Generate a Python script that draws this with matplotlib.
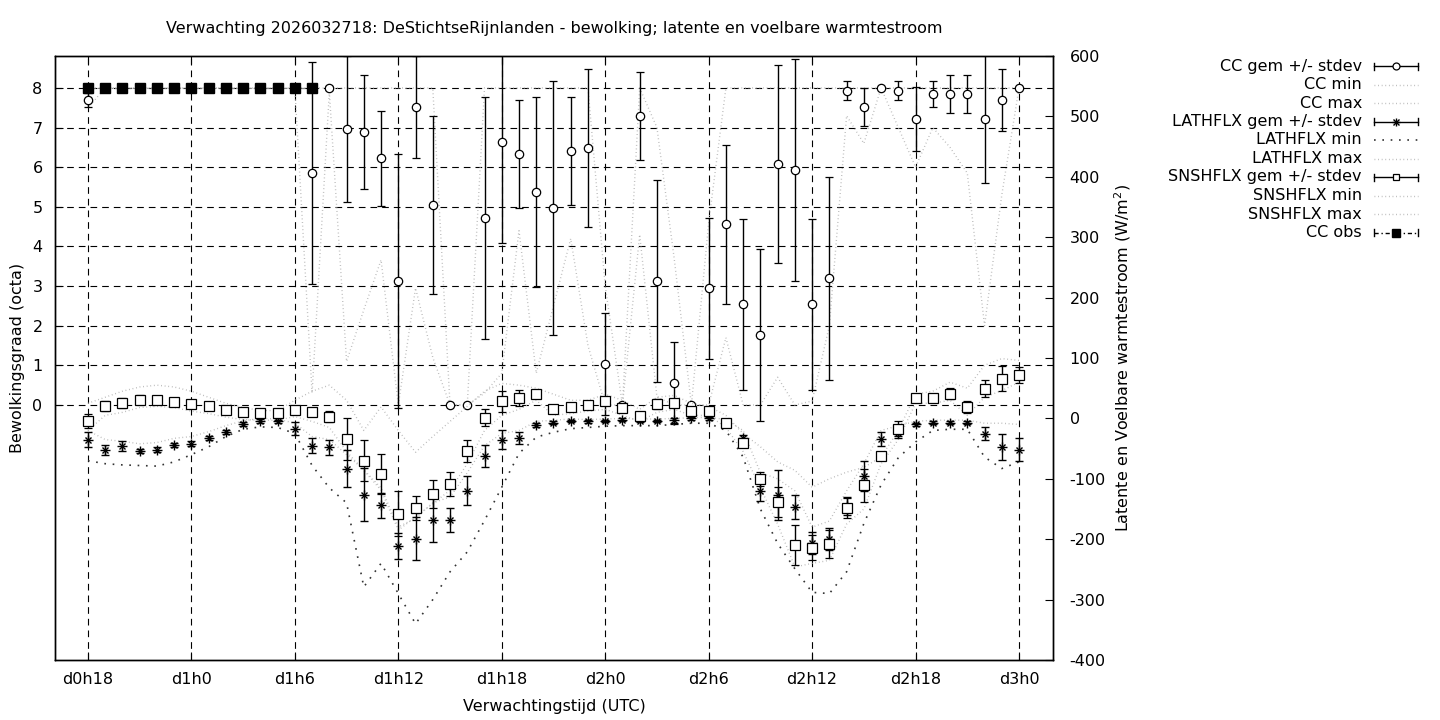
import numpy as np
import matplotlib
matplotlib.use('Agg')
import matplotlib.pyplot as plt
from matplotlib.lines import Line2D

# uren vanaf d0h0, een waarde per uur
hours = np.arange(18, 73)
tick_hours = [18, 24, 30, 36, 42, 48, 54, 60, 66, 72]
tick_labels = ['d0h18', 'd1h0', 'd1h6', 'd1h12', 'd1h18', 'd2h0', 'd2h6', 'd2h12', 'd2h18', 'd3h0']

# bewolking (octa)
cc_gem = [7.70] + [8.0] * 12 + [5.85, 8.0, 6.96, 6.89, 6.23, 3.13, 7.52, 5.04, 0.0, 0.0,
          4.71, 6.63, 6.33, 5.37, 4.97, 6.41, 6.48, 1.03, 0.0, 7.29,
          3.13, 0.55, 0.0, 2.95, 4.56, 2.54, 1.76, 6.08, 5.93, 2.54,
          3.20, 7.93, 7.52, 8.0, 7.93, 7.22, 7.85, 7.85, 7.85, 7.22, 7.70, 8.0]
cc_sd = [0.17] + [0.0] * 12 + [2.80, 0.05, 1.84, 1.44, 1.20, 3.20, 1.29, 2.25, 0.0, 0.0,
         3.05, 2.55, 1.36, 2.40, 3.20, 1.36, 2.00, 1.29, 0.0, 1.12,
         2.56, 1.03, 0.0, 1.78, 2.00, 2.15, 2.17, 2.50, 2.80, 2.15,
         2.56, 0.24, 0.48, 0.0, 0.24, 0.80, 0.33, 0.48, 0.48, 1.62, 0.79, 0.0]
cc_min = [7.5] + [8.0] * 12 + [0.3, 7.9, 1.1, 2.4, 3.66, 0.0, 2.95, 1.2, 0.0, 0.0,
          0.3, 0.8, 4.4, 0.8, 2.5, 4.2, 1.5, 0.0, 0.0, 4.3,
          0.2, 0.0, 0.0, 0.0, 1.7, 0.0, 0.0, 0.7, 0.0, 0.1,
          2.0, 7.3, 6.6, 8.0, 7.0, 6.0, 7.0, 6.5, 5.85, 2.0, 5.3, 8.0]
cc_max = [8.0] * 21 + [0.0, 0.0] + [8.0] * 7 + [3.0, 0.0, 8.0, 7.0, 3.7, 0.0, 4.6] + [8.0] * 18
obs_hours = np.arange(18, 32)
cc_obs = [8.0] * 14

# latente warmtestroom (W/m2)
lat_gem = [-35, -52, -46, -54, -52, -44, -42, -32, -23, -9,
           -4, -5, -17, -45, -48, -83, -126, -144, -211, -199,
           -168, -168, -120, -62, -35, -32, -11, -7, -4, -5,
           -4, -2, -4, -4, -3, 0, 0, -7, -33, -120,
           -127, -146, -206, -200, -145, -95, -34, -24, -10, -7,
           -7, -7, -25, -47, -52]
lat_sd = [13, 8, 8, 4, 4, 4, 4, 3, 3, 3,
          3, 3, 11, 12, 12, 31, 44, 21, 21, 36,
          36, 20, 24, 18, 16, 10, 3, 2, 2, 2,
          2, 2, 2, 2, 4, 2, 2, 2, 5, 17,
          42, 20, 18, 18, 15, 25, 12, 8, 2, 2,
          2, 2, 10, 22, 19]
lat_min = [-70, -75, -77, -78, -79, -72, -60, -47, -30, -18,
           -14, -15, -25, -78, -115, -140, -279, -240, -290, -340,
           -300, -254, -221, -169, -114, -58, -31, -23, -17, -15,
           -13, -12, -12, -12, -10, -8, -8, -20, -64, -150,
           -207, -249, -288, -290, -254, -174, -110, -65, -39, -20,
           -18, -18, -64, -83, -72]
lat_max = [-20, -35, -38, -42, -40, -33, -30, -22, -12, -4,
           0, -1, -8, -30, -35, -60, -85, -115, -180, -165,
           -140, -130, -90, -45, -25, -20, -5, -3, -1, -2,
           -1, 0, -1, -1, 0, 1, 2, -2, -20, -90,
           -100, -120, -180, -170, -120, -75, -20, -12, -5, -3,
           -3, -3, -8, -8, -10]

# voelbare warmtestroom (W/m2)
snsh_gem = [-4, 21, 25, 31, 31, 27, 24, 21, 14, 11,
            9, 9, 14, 11, 3, -34, -70, -92, -158, -148,
            -125, -108, -54, 1, 28, 34, 41, 16, 19, 23,
            28, 18, 4, 24, 26, 13, 13, -7, -40, -100,
            -138, -209, -214, -208, -148, -111, -62, -17, 33, 33,
            41, 19, 49, 66, 72]
snsh_sd = [12, 8, 8, 7, 6, 3, 6, 0, 2, 2,
           2, 2, 4, 7, 9, 35, 34, 33, 37, 20,
           23, 20, 19, 14, 18, 13, 5, 4, 3, 4,
           6, 3, 2, 8, 4, 3, 2, 2, 5, 12,
           25, 33, 21, 23, 17, 27, 7, 12, 2, 2,
           9, 10, 14, 20, 13]
snsh_min = [-20, 5, 10, 18, 20, 18, 12, 8, 2, -2,
            -3, -3, 3, -5, -15, -55, -86, -119, -185, -163,
            -141, -119, -75, -20, 5, 15, 30, 5, 8, 12,
            15, 5, -5, 10, 15, 5, 5, -15, -55, -115,
            -175, -246, -240, -235, -175, -150, -75, -35, 25, 25,
            30, 5, 35, 46, 60]
snsh_max = [25, 35, 45, 52, 55, 52, 45, 35, 25, 18,
            13, 13, 30, 45, 55, 30, -20, 19, -20, -56,
            -30, -5, 20, 45, 58, 55, 50, 40, 30, 30,
            40, 30, 15, 35, 38, 25, 20, 5, -25, -47,
            -72, -86, -114, -100, -89, -81, -64, -20, 40, 45,
            60, 50, 88, 99, 96]

plt.rcParams['font.family'] = ['DejaVu Sans']
plt.rcParams['font.size'] = 11.5
plt.rcParams['axes.unicode_minus'] = False

W, H = 1440, 720
fig = plt.figure(figsize=(14.4, 7.2), dpi=100)


def fx(px):
    return px / W


def fy(py):
    return 1 - py / H


ax = fig.add_axes([fx(55), fy(660), fx(1053) - fx(55), fy(56) - fy(660)])
ax2 = ax.twinx()

grey = '#b4b4b4'
fine_dot = (0, (0.6, 2.0))
sparse_dot = (0, (1, 4))
obs_style = (0, (3, 2, 1, 2))

# bewolking op de linkeras
ax.errorbar(hours, cc_gem, yerr=cc_sd, fmt='o', ms=6, mfc='white', mec='black', mew=0.9,
            ecolor='black', elinewidth=1, capsize=3, capthick=1, zorder=3)
ax.plot(hours, cc_min, color=grey, lw=1, linestyle=fine_dot, zorder=2)
ax.plot(hours, cc_max, color=grey, lw=1, linestyle=fine_dot, zorder=2)
ax.plot(obs_hours, cc_obs, color='#888888', lw=0.8, linestyle=obs_style,
        marker='s', ms=6.5, mfc='black', mec='black', zorder=6)

# warmtestromen op de rechteras
ax2.errorbar(hours, lat_gem, yerr=lat_sd, fmt='none', ecolor='black', elinewidth=1,
             capsize=3, capthick=1, zorder=3)
ax2.plot(hours, lat_gem, ls='none', marker='+', ms=7, mec='black', mew=1, zorder=4)
ax2.plot(hours, lat_gem, ls='none', marker='x', ms=5, mec='black', mew=1, zorder=4)
ax2.plot(hours, lat_min, color='#333333', lw=1.2, linestyle=sparse_dot, zorder=2)
ax2.plot(hours, lat_max, color=grey, lw=1, linestyle=fine_dot, zorder=2)
ax2.errorbar(hours, snsh_gem, yerr=snsh_sd, fmt='s', ms=6.5, mfc='white', mec='black', mew=0.9,
             ecolor='black', elinewidth=1, capsize=3, capthick=1, zorder=5)
ax2.plot(hours, snsh_min, color=grey, lw=1, linestyle=fine_dot, zorder=2)
ax2.plot(hours, snsh_max, color=grey, lw=1, linestyle=fine_dot, zorder=2)

ax.set_xlim(16.09, 73.97)
ax.set_ylim(-6.435, 8.807)
ax2.set_ylim(-400, 600)
ax.set_xticks(tick_hours)
ax.set_xticklabels(tick_labels)
ax.set_yticks(range(0, 9))
ax2.set_yticks(range(-400, 601, 100))
ax.tick_params(axis='x', direction='in', length=5.5, width=0.8, top=True, pad=9)
ax.tick_params(axis='y', direction='in', length=5.5, width=0.8, pad=9)
ax2.tick_params(axis='y', direction='in', length=5.5, width=0.8, pad=12)
ax.grid(True, color='black', lw=0.8, linestyle=(0, (6, 4.5)))
for a in (ax, ax2):
    for s in a.spines.values():
        s.set_linewidth(1)

fig.text(fx(554), fy(29), 'Verwachting 2026032718: DeStichtseRijnlanden - bewolking; latente en voelbare warmtestroom',
         ha='center', va='center')
fig.text(fx(554), fy(706), 'Verwachtingstijd (UTC)', ha='center', va='center')
fig.text(fx(18), fy(358), 'Bewolkingsgraad (octa)', rotation=90, ha='center', va='center')
fig.text(fx(1123), fy(358), 'Latente en Voelbare warmtestroom (W/m$^2$)', rotation=90,
         ha='center', va='center')

# legenda rechts buiten de grafiek
legend_rows = [
    ('CC gem +/- stdev', 'err', 'o'),
    ('CC min', 'fine', None),
    ('CC max', 'fine', None),
    ('LATHFLX gem +/- stdev', 'err', '*'),
    ('LATHFLX min', 'sparse', None),
    ('LATHFLX max', 'fine', None),
    ('SNSHFLX gem +/- stdev', 'err', 's'),
    ('SNSHFLX min', 'fine', None),
    ('SNSHFLX max', 'fine', None),
    ('CC obs', 'obs', 'S'),
]
x0, x1, xm = 1374, 1418, 1396
for i, (label, kind, mk) in enumerate(legend_rows):
    y = 66 + i * 18.5
    fig.text(fx(1362), fy(y), label, ha='right', va='center')
    tf = fig.transFigure
    if kind in ('err', 'obs'):
        ls = '-' if kind == 'err' else obs_style
        fig.add_artist(Line2D([fx(x0), fx(x1)], [fy(y), fy(y)], transform=tf, color='black', lw=1, linestyle=ls))
        for xc in (x0, x1):
            fig.add_artist(Line2D([fx(xc), fx(xc)], [fy(y - 3.5), fy(y + 3.5)], transform=tf, color='black', lw=1))
        if mk == 'o':
            fig.add_artist(Line2D([fx(xm)], [fy(y)], transform=tf, marker='o', ms=5, mfc='white', mec='black', mew=0.9))
        elif mk == 's':
            fig.add_artist(Line2D([fx(xm)], [fy(y)], transform=tf, marker='s', ms=5, mfc='white', mec='black', mew=0.9))
        elif mk == 'S':
            fig.add_artist(Line2D([fx(xm)], [fy(y)], transform=tf, marker='s', ms=5.5, mfc='black', mec='black'))
        else:
            fig.add_artist(Line2D([fx(xm)], [fy(y)], transform=tf, marker='+', ms=6, mec='black', mew=1))
            fig.add_artist(Line2D([fx(xm)], [fy(y)], transform=tf, marker='x', ms=4.5, mec='black', mew=1))
    elif kind == 'fine':
        fig.add_artist(Line2D([fx(x0), fx(x1)], [fy(y), fy(y)], transform=tf, color=grey, lw=1, linestyle=fine_dot))
    else:
        fig.add_artist(Line2D([fx(x0), fx(x1)], [fy(y), fy(y)], transform=tf, color='#333333', lw=1.2,
                              linestyle=sparse_dot))

fig.savefig('out.png', dpi=100)
